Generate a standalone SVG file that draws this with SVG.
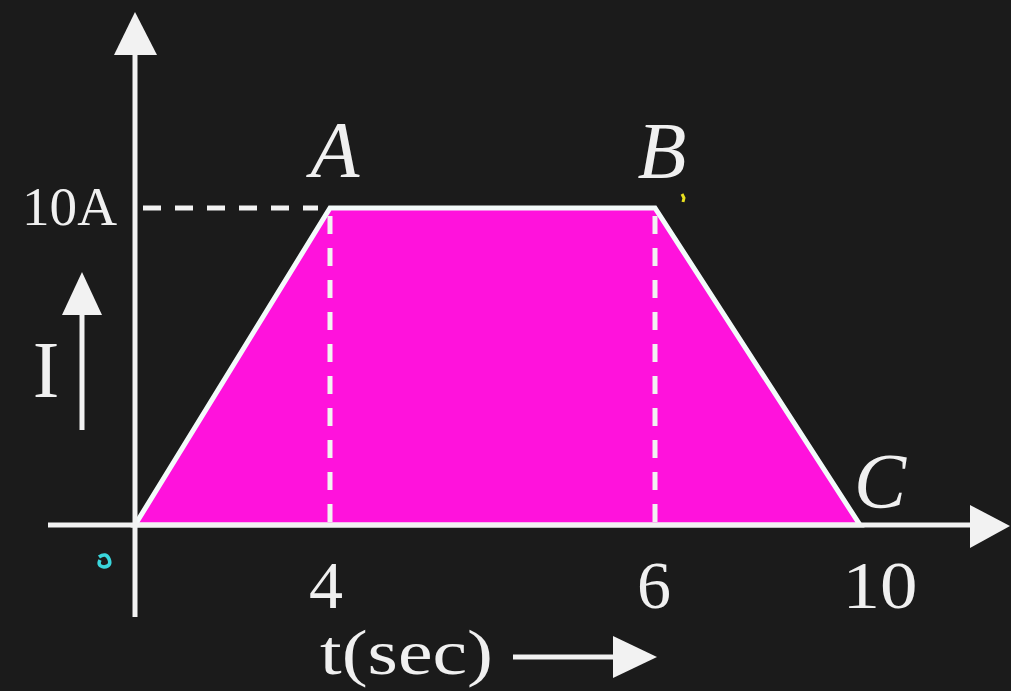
<svg xmlns="http://www.w3.org/2000/svg" width="1011" height="691" viewBox="0 0 1011 691">
<style>
.ax{stroke:#f2f2f2;stroke-width:5;fill:none}
.dash{stroke:#f2f2f2;stroke-width:5;fill:none;stroke-dasharray:18 14}
.head{fill:#f2f2f2}
.t{font-family:"Liberation Serif","DejaVu Serif",serif;fill:#f0f0f0}
.it{font-style:italic}
</style>
<rect width="1011" height="691" fill="#1b1b1b"/>
<g id="area">
<polygon points="135,525 330,208 655,208 860,525" fill="#ff12dc" stroke="#f4fbfb" stroke-width="5" stroke-linejoin="miter"/>
</g>
<g id="connectors">
<line class="ax" x1="135" y1="50" x2="135" y2="617"/>
<polygon class="head" points="135,12 114,55 157,55"/>
<line class="ax" x1="48" y1="525" x2="975" y2="525"/>
<polygon class="head" points="1010,526 970,505 970,548"/>
<line class="dash" x1="143" y1="208" x2="318" y2="208"/>
<line class="dash" x1="330" y1="216" x2="330" y2="525"/>
<line class="dash" x1="655" y1="216" x2="655" y2="525"/>
<line class="ax" x1="82" y1="430" x2="82" y2="310"/>
<polygon class="head" points="82,272 62,315 102,315"/>
<line class="ax" x1="513" y1="657" x2="616" y2="657"/>
<polygon class="head" points="657,657 613,636 613,678"/>
</g>
<g id="label-10A"><text class="t" x="22" y="225" font-size="54" textLength="95" lengthAdjust="spacingAndGlyphs">10A</text></g>
<g id="label-I"><text class="t" x="46" y="397" font-size="80" text-anchor="middle">I</text></g>
<g id="label-A"><text class="t it" x="335" y="177" font-size="80" text-anchor="middle">A</text></g>
<g id="label-B"><text class="t it" x="662" y="178" font-size="80" text-anchor="middle">B</text></g>
<g id="label-C"><text class="t it" x="880" y="507" font-size="78" text-anchor="middle">C</text></g>
<g id="label-4"><text class="t" x="326" y="608" font-size="68" text-anchor="middle">4</text></g>
<g id="label-6"><text class="t" x="654" y="608" font-size="68" text-anchor="middle">6</text></g>
<g id="label-10"><text class="t" x="880" y="608" font-size="68" text-anchor="middle" textLength="75" lengthAdjust="spacingAndGlyphs">10</text></g>
<g id="label-t"><text class="t" x="320" y="674" font-size="64" textLength="173" lengthAdjust="spacingAndGlyphs">t(sec)</text></g>
<g id="marks">
<path d="M99,557 q7,-5 10,2 q3,7 -5,8 q-7,-1 -4,-7" fill="none" stroke="#3ad6dc" stroke-width="3.5"/>
<path d="M682,194 l2,4 l-1,4" fill="none" stroke="#e8e020" stroke-width="3"/>
</g>
</svg>
